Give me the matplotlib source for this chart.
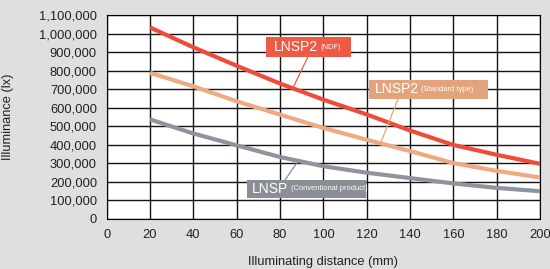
import matplotlib
matplotlib.use("Agg")
import matplotlib.pyplot as plt
from matplotlib.patches import Rectangle
from matplotlib.ticker import MultipleLocator, FuncFormatter

# ---- data ----
distance = [20, 40, 60, 80, 100, 120, 140, 160, 180, 200]
lnsp2_ndf = [1035000, 928000, 828000, 732000, 645000, 565000, 478000, 400000, 347000, 298000]
lnsp2_std = [790000, 717000, 636000, 564000, 492000, 428000, 367000, 302000, 260000, 224000]
lnsp_conv = [538000, 462000, 398000, 335000, 285000, 250000, 221000, 192000, 168000, 150000]

x_step = 20
y_step = 100000
y_tick_labels = ["0", "100,000", "200,000", "300,000", "400,000", "500,000", "600,000",
                 "700,000", "800,000", "900,000", "1,000,000", "1,100,000"]

labels_main = ["LNSP2", "LNSP2", "LNSP"]
labels_sub = ["(NDF)", "(Standard type)", "(Conventional product)"]

# ---- style ----
BG = "#e0dfe0"
C_NDF = "#ef4b3a"
C_STD = "#eeaa80"
C_CONV = "#8e949c"
BOX_NDF = "#ef5a45"
BOX_STD = "#e3a47c"
BOX_CONV = "#8a8e96"
GRID_DARK = "#141414"

plt.rcParams['font.family'] = ['Liberation Sans', 'DejaVu Sans']

fig = plt.figure(figsize=(5.5, 2.69), dpi=100, facecolor=BG)
ax = fig.add_axes([0.194, 0.186, 0.788, 0.7565])
ax.set_facecolor("white")

ax.plot(distance, lnsp2_ndf, color=C_NDF, lw=3.0, solid_capstyle='butt', zorder=3)
ax.plot(distance, lnsp2_std, color=C_STD, lw=3.0, solid_capstyle='butt', zorder=3)
ax.plot(distance, lnsp_conv, color=C_CONV, lw=3.0, solid_capstyle='butt', zorder=3)

ax.set_xlim(0, 200)
ax.set_ylim(0, 1100000)
ax.xaxis.set_major_locator(MultipleLocator(x_step))
ax.yaxis.set_major_locator(MultipleLocator(y_step))


def ylab(v, pos):
    i = int(round(v / y_step))
    return y_tick_labels[i] if 0 <= i < len(y_tick_labels) else ""


ax.yaxis.set_major_formatter(FuncFormatter(ylab))
ax.tick_params(axis='both', length=0, labelsize=9.3, labelcolor="#222222")
ax.tick_params(axis='y', pad=7)
ax.tick_params(axis='x', pad=7)

ax.set_axisbelow(True)
ax.grid(True, which='major', color=GRID_DARK, linewidth=1.0)

ax.set_xlabel("Illuminating distance (mm)", fontsize=9.3, color="#222222")
ax.xaxis.set_label_coords(0.499, -0.18)
ax.set_ylabel("Illuminance (lx)", fontsize=9.3, color="#222222")
ax.yaxis.set_label_coords(-0.215, 0.5)

# label boxes: (x0, x1, y0, y1, main_x, sub_x, color, leader from, leader to)
boxes = [
    (73.5, 112.8, 878000, 981000, 77.3, 98.6, BOX_NDF, (92.9, 878000), (86.0, 710000)),
    (121.1, 176.0, 650000, 753000, 123.8, 145.2, BOX_STD, (134.5, 650000), (126.1, 401000)),
    (64.8, 119.5, 114000, 211000, 67.1, 85.0, BOX_CONV, (82.3, 211000), (87.8, 304000)),
]
for (x0, x1, y0, y1, mx, sx, col, p0, p1), main, sub in zip(boxes, labels_main, labels_sub):
    ax.plot([p0[0], p1[0]], [p0[1], p1[1]], color=col, lw=0.9, zorder=4)
    ax.add_patch(Rectangle((x0, y0), x1 - x0, y1 - y0, facecolor=col, edgecolor='none',
                           zorder=5, clip_on=False))
    yc = (y0 + y1) / 2
    ax.text(mx, yc, main, color="white", fontsize=10, va='center', ha='left', zorder=6)
    ax.text(sx, yc, sub, color="white", fontsize=5.4, va='center', ha='left', zorder=6)

fig.savefig("out.png", dpi=100, facecolor=BG)
